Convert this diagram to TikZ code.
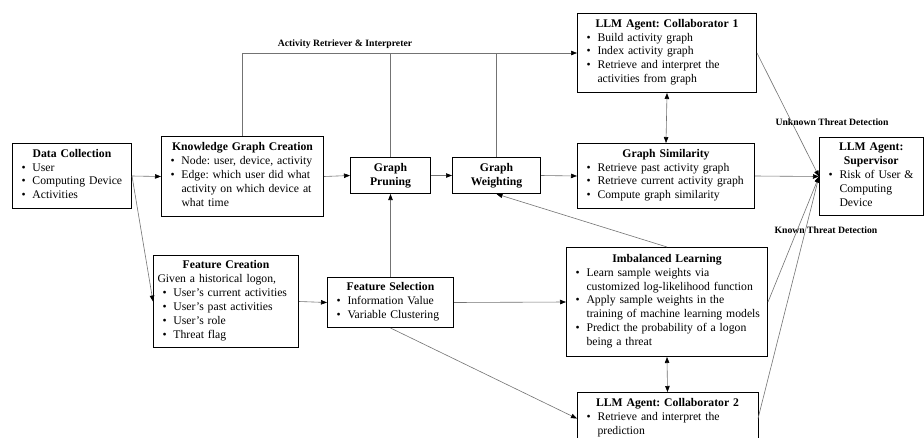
\documentclass[tikz,border=0pt]{standalone}
\usepackage{fontspec}
\setmainfont{Liberation Serif}
\usetikzlibrary{arrows.meta}
\frenchspacing
\newcommand\boxfont{\fontsize{11.7}{13.9}\selectfont\lineskip=0pt\relax\lineskiplimit=0pt\relax}
\newcommand\bl[1]{\par\noindent\makebox[16pt][l]{\hspace{5pt}\textbullet}\parbox[t]{\dimexpr\hsize-16pt\relax}{\raggedright\strut#1\strut}}
\newcommand\ttl[1]{{\centering\textbf{#1}\par}}
\begin{document}
\begin{tikzpicture}[x=1pt,y=-1pt,
  >={Triangle[length=6pt,width=4.5pt,color=black]},
  box/.style={draw=black, line width=1pt, inner xsep=4pt, inner ysep=2pt, align=left, anchor=north west, font=\boxfont},
  boxline/.style={draw=black, line width=1pt},
  conn/.style={draw=black!55, line width=0.6pt},
  lbl/.style={font=\bfseries\fontsize{9.7}{11}\selectfont, inner sep=1pt}]
\useasboundingbox[fill=white] (0,0) rectangle (924,437);

\node[box, text width=111, minimum height=65] (dc) at (12,143)
  {\ttl{Data Collection}\bl{User}\bl{Computing Device}\bl{Activities}};
\node[box, text width=154, minimum height=80] (kg) at (161,136)
  {\ttl{Knowledge Graph Creation}\bl{Node: user, device, activity}\bl{Edge: which user did what\newline activity on which device at\newline what time}};
\node[box, text width=137, minimum height=92] (fc) at (153,255)
  {\ttl{Feature Creation}\par\noindent Given a historical logon,\bl{User’s current activities}\bl{User’s past activities}\bl{User’s role}\bl{Threat flag}};
\node[box, align=center, text width=72, minimum height=36] (gp) at (350,157)
  {\textbf{Graph}\\\textbf{Pruning}};
\node[box, align=center, text width=80, minimum height=36] (gw) at (452,157)
  {\textbf{Graph}\\\textbf{Weighting}};
\node[box, text width=118, minimum height=50] (fs) at (327,277)
  {\ttl{Feature Selection}\bl{Information Value}\bl{Variable Clustering}};
\node[box, text width=171, minimum height=79] (c1) at (577,13)
  {\ttl{LLM Agent: Collaborator 1}\bl{Build activity graph}\bl{Index activity graph}\bl{Retrieve and interpret the\newline activities from graph}};
\node[box, text width=169, minimum height=65] (gs) at (577,143)
  {\ttl{Graph Similarity}\bl{Retrieve past activity graph}\bl{Retrieve current activity graph}\bl{Compute graph similarity}};
\node[box, text width=193, minimum height=109] (il) at (566,247)
  {\ttl{Imbalanced Learning}\bl{Learn sample weights via\newline customized log-likelihood function}\bl{Apply sample weights in the\newline training of machine learning models}\bl{Predict the probability of a logon\newline being a threat}};
\node[box, draw=none, text width=172, inner ysep=6pt] (c2) at (577,392)
  {\ttl{LLM Agent: Collaborator 2}\bl{Retrieve and interpret the\newline prediction}};
\draw[boxline] ([yshift=-40pt]c2.south west) -- (c2.north west) -- (c2.north east) -- ([yshift=-40pt]c2.south east);
\node[box, text width=95.5, minimum height=78] (sup) at (819,137)
  {\ttl{LLM Agent:}\ttl{Supervisor}\bl{Risk of User \&\newline Computing\newline Device}};

\node[lbl] (lar) at (345,44) {Activity Retriever \& Interpreter};
\node[lbl] (lut) at (832,122) {Unknown Threat Detection};
\node[lbl] (lkt) at (826,230) {Known Threat Detection};

\draw[conn,->] (dc.east) -- (kg.west);
\draw[conn,->] (dc.east) -- (fc.west);
\draw[conn,->] (kg.east) -- (gp.west);
\draw[conn,->] (gp.east) -- (gw.west);
\draw[conn,->] (gw.east) -- (gs.west);
\draw[conn,->] (gs.east) -- (sup.west);
\draw[conn,->] (kg.north) |- (c1.west);
\draw[conn] (gp.north) -- (gp.north |- c1.west);
\draw[conn] (gw.north) -- (gw.north |- c1.west);
\draw[conn,<->] (c1.south) -- (gs.north);
\draw[conn,->] (c1.east) -- (sup.west);
\draw[conn,->] (il.east) -- (sup.west);
\draw[conn,->] (c2.east) -- (sup.west);
\draw[conn,->] (il.north) -- (gw.south);
\draw[conn,<->] (il.south) -- (c2.north);
\draw[conn,->] (fc.east) -- (fs.west);
\draw[conn,->] (fs.east) -- (il.west);
\draw[conn,->] (fs.north) -- (gp.south);
\draw[conn,->] (fs.south) -- (c2.west);
\end{tikzpicture}
\end{document}
